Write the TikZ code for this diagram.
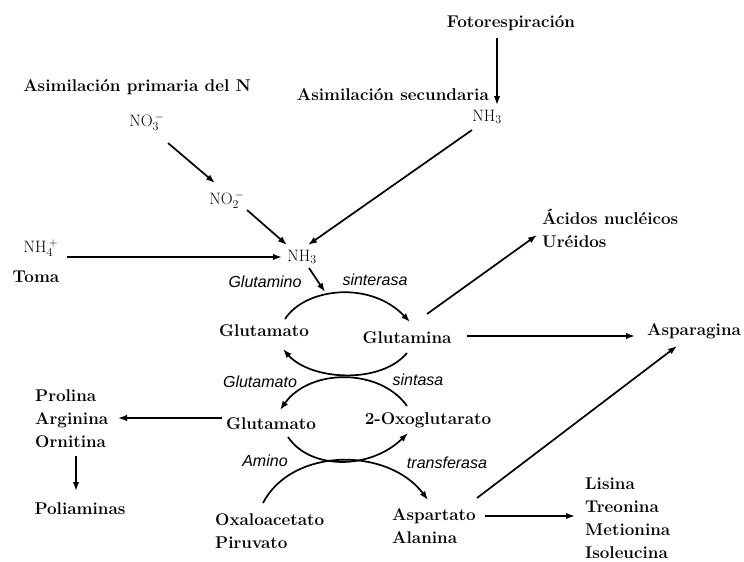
\documentclass[tikz,border=0pt]{standalone}
\usepackage{fontspec}
\newfontfamily\lsans{Liberation Sans}
\usetikzlibrary{arrows.meta,calc}
\begin{document}
\begin{tikzpicture}[x=1pt,y=-1pt,
  lbl/.style={font=\fontsize{17}{23}\selectfont\bfseries, inner sep=0pt},
  blk/.style={lbl, align=left, anchor=west},
  chem/.style={font=\fontsize{16.5}{18}\selectfont, inner sep=0pt},
  enz/.style={font=\lsans\itshape\fontsize{16}{18}\selectfont, inner sep=0pt},
  tip/.style={-{Latex[length=9pt,width=6.5pt]}},
  arr/.style={line width=1.7pt, tip},
  crv/.style={line width=1.7pt, tip},
]
\useasboundingbox (0,0) rectangle (744,562);

% top
\node[lbl] (foto) at (511,23) {Fotorespiración};
\node[lbl] (prim) at (137,87) {Asimilación primaria del N};
\node[lbl, anchor=east] (sec) at (489,95) {Asimilación secundaria};
\node[chem] (no3) at (147,122) {NO$_3^{\,-}$};
\node[chem] (no2) at (227,200) {NO$_2^{\,-}$};
\node[chem] (nh3b) at (487,117) {NH$_3$};
\node[chem] (nh4) at (41,248) {NH$_4^{\,+}$};
\node[lbl] (toma) at (36,277) {Toma};
\node[chem] (nh3) at (302,257) {NH$_3$};

% cycle
\node[enz] (e1) at (265,282) {Glutamino};
\node[enz] (e2) at (375,280) {sinterasa};
\node[lbl] (glu1) at (264,331) {Glutamato};
\node[lbl] (gln) at (407,338) {Glutamina};
\node[enz] (e3) at (260,382) {Glutamato};
\node[enz] (e4) at (418,380) {sintasa};
\node[lbl] (glu2) at (271,424) {Glutamato};
\node[lbl] (oxo) at (428,420) {2-Oxoglutarato};
\node[enz] (e5) at (265,461) {Amino};
\node[enz] (e6) at (447,463) {transferasa};
\node[blk] (oxal) at (215,531.5) {Oxaloacetato\\Piruvato};
\node[blk] (asp) at (392,526) {Aspartato\\Alanina};

% products
\node[lbl] (aspg) at (694,331) {Asparagina};
\node[blk] (acid) at (542,228) {Ácidos nucléicos\\Uréidos};
\node[blk] (lis) at (585,518) {Lisina\\Treonina\\Metionina\\Isoleucina};
\node[blk] (pro) at (35,419) {Prolina\\Arginina\\Ornitina};
\node[lbl] (poli) at (80,509) {Poliaminas};

% straight connectors
\draw[arr] ($(foto)+(-14,15)$) -- ($(nh3b)+(10,-12)$);
\draw[arr] ($(nh3b)+(-15,13)$) -- ($(nh3)+(6,-12)$);
\draw[arr] ($(no3)+(21,21)$) -- ($(no2)+(-12,-17)$);
\draw[arr] ($(no2)+(20,10)$) -- ($(nh3)+(-15,-12)$);
\draw[arr] ($(nh4)+(26,9)$) -- ($(nh3)+(-20,0)$);
\coordinate (arctop) at (325,292);
\draw[arr] ($(nh3)+(7,11)$) -- (arctop);

% curves
\draw[crv] ($(glu1)+(21,-12)$) .. controls (305,288) and (370,280) .. ($(gln)+(3,-16)$);
\draw[crv] ($(gln)+(0,15)$) .. controls (380,385) and (310,380) .. ($(glu1)+(19,18)$);
\draw[crv] ($(oxo)+(-21,-14)$) .. controls (380,368) and (310,368) .. ($(glu2)+(9,-14)$);
\draw[crv] ($(glu2)+(17,13)$) .. controls (310,470) and (370,470) .. ($(oxo)+(-20,13)$);
\draw[crv] ($(oxal.west)+(48,-28.5)$) .. controls (292,447) and (388,447) .. ($(asp.west)+(36,-26)$);

% product arrows
\draw[arr] ($(gln)+(60,-2)$) -- ($(aspg)+(-59,5)$);
\draw[arr] ($(gln)+(20,-24)$) -- ($(acid.west)+(-5,7)$);
\draw[arr] ($(asp.west)+(85,-28)$) -- ($(aspg)+(-17,15)$);
\draw[arr] ($(asp.west)+(93,-10)$) -- ($(lis.west)+(-10,-2)$);
\draw[arr] ($(glu2)+(-49,-6)$) -- ($(pro.west)+(83,-1)$);
\draw[arr] ($(pro.west)+(41,37)$) -- ($(poli)+(-4,-18)$);
\end{tikzpicture}
\end{document}
